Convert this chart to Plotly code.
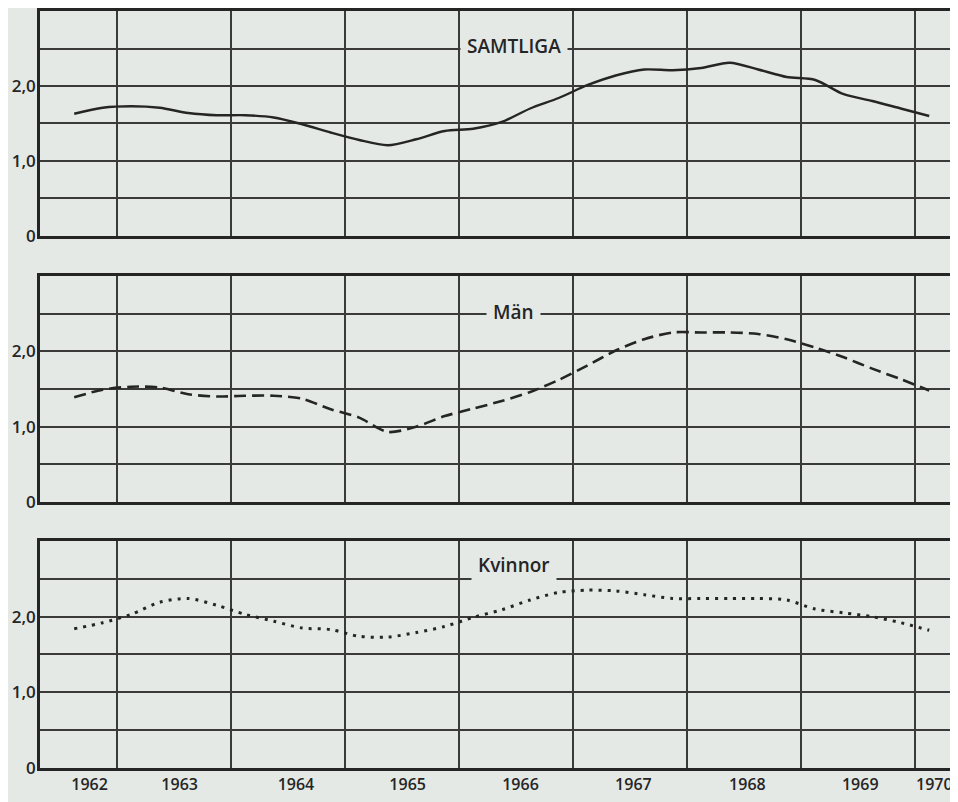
import plotly.graph_objects as go

# Quarterly observations, 1962 Q3 .. 1970 Q1
start_year, start_q = 1962, 3
n_quarters = 31

samtliga = [1.63, 1.71, 1.73, 1.71, 1.64, 1.61, 1.61, 1.58, 1.49, 1.38, 1.28, 1.21,
            1.29, 1.40, 1.43, 1.52, 1.70, 1.84, 2.01, 2.14, 2.22, 2.21, 2.24, 2.31,
            2.22, 2.12, 2.08, 1.89, 1.80, 1.70, 1.60]
man = [1.39, 1.49, 1.53, 1.52, 1.43, 1.40, 1.41, 1.41, 1.37, 1.23, 1.12, 0.93,
       1.00, 1.14, 1.24, 1.34, 1.46, 1.62, 1.81, 2.01, 2.16, 2.25, 2.25, 2.25,
       2.23, 2.16, 2.05, 1.92, 1.77, 1.63, 1.48]
kvinnor = [1.84, 1.92, 2.03, 2.19, 2.24, 2.15, 2.03, 1.94, 1.85, 1.83, 1.74, 1.73,
           1.79, 1.87, 1.99, 2.09, 2.22, 2.32, 2.35, 2.34, 2.29, 2.24, 2.24, 2.24,
           2.24, 2.22, 2.10, 2.05, 2.00, 1.92, 1.82]

year_labels = ["1962", "1963", "1964", "1965", "1966", "1967", "1968", "1969", "1970"]
year_label_pos = [1962.76, 1963.55, 1964.57, 1965.55, 1966.54, 1967.53, 1968.53, 1969.52, 1970.17]

y_ticks = [0, 0.5, 1, 1.5, 2, 2.5, 3]
y_ticktext = ["0", "", "1,0", "", "2,0", "", ""]

titles = ["SAMTLIGA", "Män", "Kvinnor"]
title_y = [2.53, 2.52, 2.68]

# quarter midpoints as decimal years
x = []
for i in range(n_quarters):
    q_index = (start_q - 1) + i
    yr = start_year + q_index // 4
    q = q_index % 4
    x.append(yr + q * 0.25 + 0.125)

BG = "#e4e9e6"
INK = "#252525"
GRID = "#3a3a3a"
FONT = "Open Sans"

fig = go.Figure()
series = [samtliga, man, kvinnor]
dashes = ["solid", "12px,6px", "3px,6px"]
widths = [2.4, 2.6, 3.0]
for i, (vals, d, w) in enumerate(zip(series, dashes, widths)):
    suffix = "" if i == 0 else str(i + 1)
    fig.add_trace(go.Scatter(
        x=x, y=vals, mode="lines",
        line=dict(color=INK, width=w, dash=d, shape="spline", smoothing=0.8),
        xaxis="x" + suffix, yaxis="y" + suffix, showlegend=False,
        hoverinfo="skip"))

domains = [[0.7028, 1.0], [0.3514, 0.650], [0.0, 0.2999]]
xr = [1962.325, 1970.36]
layout = dict(
    width=958, height=802,
    margin=dict(l=32, r=10, t=3, b=42),
    paper_bgcolor=BG, plot_bgcolor=BG,
    font=dict(family=FONT, color=INK, size=16),
    showlegend=False,
)
xtickfont = dict(family=FONT, size=16, color=INK, weight=600)
ytickfont = dict(family=FONT, size=17, color=INK, weight=600)
for i in range(3):
    suffix = "" if i == 0 else str(i + 1)
    layout["xaxis" + suffix] = dict(
        range=xr, anchor="y" + suffix, automargin=False,
        tickmode="array", tickvals=year_label_pos,
        ticktext=year_labels if i == 2 else [""] * len(year_labels),
        showticklabels=(i == 2), ticks="", showgrid=False, zeroline=False,
        showline=True, mirror=True, linecolor=INK, linewidth=2.5,
        tickfont=xtickfont,
        minor=dict(tick0=1963, dtick=1, showgrid=True, gridcolor=GRID, gridwidth=1.6, ticks=""),
        fixedrange=True,
    )
    layout["yaxis" + suffix] = dict(
        domain=domains[i], range=[0, 3], anchor="x" + suffix, automargin=False,
        tickmode="array", tickvals=y_ticks, ticktext=y_ticktext,
        ticks="", showgrid=True, gridcolor=GRID, gridwidth=1.6, zeroline=False,
        showline=True, mirror=True, linecolor=INK, linewidth=2.5,
        tickfont=ytickfont, ticklabelstandoff=-2,
        fixedrange=True,
    )
fig.update_layout(**layout)

for i in range(3):
    suffix = "" if i == 0 else str(i + 1)
    fig.add_annotation(
        x=1966.48, y=title_y[i], xref="x" + suffix, yref="y" + suffix,
        text=titles[i], showarrow=False, bgcolor=BG, borderpad=6,
        font=dict(family=FONT, size=19, color=INK, weight=600),
    )

fig.write_html("out.html")
